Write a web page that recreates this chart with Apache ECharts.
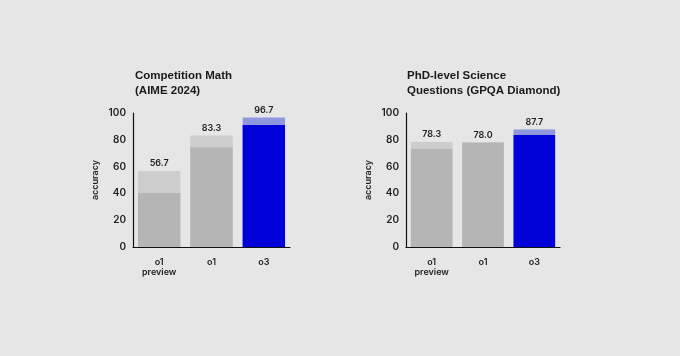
<!DOCTYPE html>
<html><head><meta charset="utf-8">
<script src="https://cdn.jsdelivr.net/npm/echarts@6/dist/echarts.min.js"></script>
<style>html,body{margin:0;padding:0;background:#e6e6e6}#c{width:680px;height:356px}</style>
</head><body><div id="c"></div>
<script>
const categories = ['o1\npreview', 'o1', 'o3'];
const mathTotal = [56.7, 83.3, 96.7];
const mathBase = [40.3, 74.4, 91.0];
const gpqaTotal = [78.3, 78.0, 87.7];
const gpqaBase = [73.2, 78.0, 83.5];
const yTicks = [0, 20, 40, 60, 80, 100];

const FONT = 'Inter, "Noto Sans", sans-serif';
const TFONT = '"Liberation Sans", Arial, sans-serif';
const lightCol = ['#cdcdcd', '#cdcdcd', '#8f97df'];
const darkCol = ['#b5b5b5', '#b5b5b5', '#0000d8'];

const grids = [
  {left: 133, top: 113, width: 157, bottom: 109},
  {left: 406, top: 113, width: 154, bottom: 109}
];
function xAx(i){ return {type:'category', gridIndex:i, data:categories,
  axisLine:{lineStyle:{color:'#111', width:1.2}}, axisTick:{show:false},
  axisLabel:{color:'#222', fontFamily:FONT, fontSize:9, fontWeight:600, lineHeight:10, margin:10}}; }
function yAx(i){ return {type:'value', gridIndex:i, min:yTicks[0], max:yTicks[yTicks.length-1], interval:20,
  name:'accuracy', nameLocation:'middle', nameGap:33, nameRotate:90,
  nameTextStyle:{color:'#222', fontFamily:FONT, fontSize:9, fontWeight:600},
  axisLine:{show:true, lineStyle:{color:'#111', width:1.2}}, axisTick:{show:false}, splitLine:{show:false},
  axisLabel:{color:'#222', fontFamily:FONT, fontSize:10, fontWeight:600, margin:7}}; }
function series(i, total, base){
  return [
    {type:'bar', xAxisIndex:i, yAxisIndex:i, barWidth:'81%', barGap:'-100%',
     data: total.map((v,k)=>({value:v, itemStyle:{color:lightCol[k]}})),
     label:{show:true, position:'top', distance:3, formatter:p=>p.value.toFixed(1),
       color:'#222', fontFamily:FONT, fontSize:9, fontWeight:600}, z:2},
    {type:'bar', xAxisIndex:i, yAxisIndex:i, barWidth:'81%', barGap:'-100%',
     data: base.map((v,k)=>({value:v, itemStyle:{color:darkCol[k]}})), z:3}
  ];
}
const chart = echarts.init(document.getElementById('c'));
chart.setOption({
  backgroundColor:'#e6e6e6',
  animation:false,
  title:[
    {text:'Competition Math\n(AIME 2024)', left:130, top:63,
     textStyle:{color:'#1a1a1a', fontFamily:TFONT, fontSize:11.5, fontWeight:'bold', lineHeight:15}},
    {text:'PhD-level Science\nQuestions (GPQA Diamond)', left:402, top:63,
     textStyle:{color:'#1a1a1a', fontFamily:TFONT, fontSize:11.5, fontWeight:'bold', lineHeight:15}}
  ],
  grid:grids,
  xAxis:[xAx(0), xAx(1)],
  yAxis:[yAx(0), yAx(1)],
  series:[...series(0, mathTotal, mathBase), ...series(1, gpqaTotal, gpqaBase)]
});
</script></body></html>
